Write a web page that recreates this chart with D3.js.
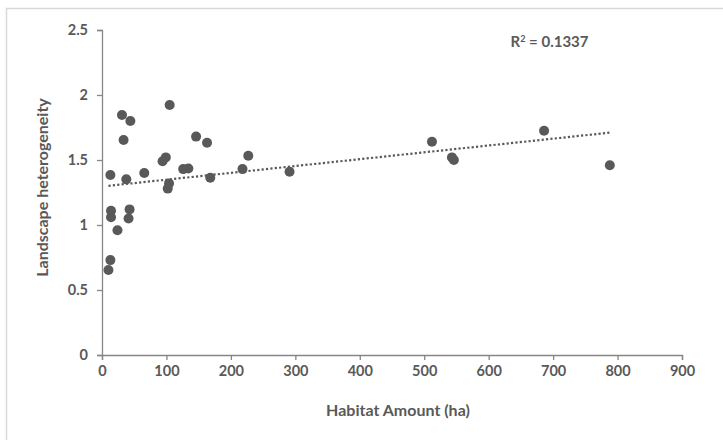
<!DOCTYPE html>
<html>
<head>
  <meta charset="UTF-8">
  <script src="https://d3js.org/d3.v7.min.js"></script>
  <title>Landscape heterogeneity vs Habitat Amount</title>
  <style type="text/css">
    html, body { margin:0; padding:0; background:#fff; }
    svg text { font-family: Lato, "Open Sans", sans-serif; fill:#595959; }
  </style>
</head>
<body>
<div id="chart"></div>
<script>
  // habitat amount (ha) and landscape heterogeneity
  var habitat = [10, 13, 14, 14, 24, 13, 31, 44, 33.5, 37.7, 42.8, 41.2, 65.6, 94, 99, 102, 104, 105,
                 126, 134, 146, 163, 168, 218, 227, 291, 512, 543, 546, 686, 788];
  var heterogeneity = [0.654, 0.73, 1.11, 1.06, 0.96, 1.385, 1.846, 1.80, 1.654, 1.351, 1.12, 1.05, 1.40,
                       1.49, 1.52, 1.28, 1.32, 1.923, 1.43, 1.435, 1.68, 1.633, 1.364, 1.43, 1.533, 1.41,
                       1.641, 1.52, 1.50, 1.725, 1.46];
  var xTicks = [0, 100, 200, 300, 400, 500, 600, 700, 800, 900];
  var yTicks = [0, 0.5, 1, 1.5, 2, 2.5];
  // linear trendline as drawn (intercept, slope) and its R²
  var trendIntercept = 1.296;
  var trendSlope = 0.000526;
  var rSquared = "0.1337";

  var svgWidth = 723, svgHeight = 440;
  var margin = {top: 30, left: 102, right: 41, bottom: 85};
  var width = svgWidth - margin.left - margin.right,
      height = svgHeight - margin.top - margin.bottom;

  var svg = d3.select("#chart").append("svg")
    .attr("width", svgWidth)
    .attr("height", svgHeight);

  // chart frame
  svg.append("rect")
    .attr("x", 6.5).attr("y", 8.5)
    .attr("width", 760).attr("height", 480)
    .attr("fill", "none")
    .attr("stroke", "#d9d9d9")
    .attr("stroke-width", 1.5);

  var g = svg.append("g")
    .attr("transform", "translate(" + margin.left + "," + margin.top + ")");

  var xScale = d3.scaleLinear().domain([0, 900]).range([0, width]);
  var yScale = d3.scaleLinear().domain([0, 2.5]).range([height, 0]);

  var xAxis = g.append("g")
    .attr("transform", "translate(0," + height + ")")
    .call(d3.axisBottom(xScale).tickValues(xTicks).tickSize(5).tickPadding(6).tickFormat(d3.format("d")));

  var yAxis = g.append("g")
    .call(d3.axisLeft(yScale).tickValues(yTicks).tickSize(5).tickPadding(9).tickFormat(function(d) { return d; }));

  [xAxis, yAxis].forEach(function(a) {
    a.selectAll("path, line").attr("stroke", "#868686").attr("stroke-width", 1.3);
    a.selectAll("text")
      .attr("fill", "#595959")
      .style("font-size", "14.5px")
      .style("font-weight", "700");
  });

  // trendline over the data's x range
  var ext = d3.extent(habitat);
  g.append("line")
    .attr("x1", xScale(ext[0]))
    .attr("y1", yScale(trendIntercept + trendSlope * ext[0]))
    .attr("x2", xScale(ext[1]))
    .attr("y2", yScale(trendIntercept + trendSlope * ext[1]))
    .attr("stroke", "#595959")
    .attr("stroke-width", 2.2)
    .attr("stroke-dasharray", "2.2,2.2");

  // points
  g.selectAll("circle")
    .data(habitat)
    .enter()
    .append("circle")
    .attr("cx", function(d) { return xScale(d); })
    .attr("cy", function(d, i) { return yScale(heterogeneity[i]); })
    .attr("r", 5)
    .attr("fill", "#595959");

  // R² label
  var r2 = g.append("text")
    .attr("x", xScale(634))
    .attr("y", 17)
    .style("font-size", "15px")
    .style("font-weight", "700");
  r2.append("tspan").text("R");
  r2.append("tspan").attr("dy", -5).style("font-size", "9px").text("2");
  r2.append("tspan").attr("dy", 5).text(" = " + rSquared);

  // axis titles
  g.append("text")
    .attr("x", width / 2 + 6)
    .attr("y", height + 61)
    .attr("text-anchor", "middle")
    .style("font-size", "16px")
    .style("font-weight", "700")
    .text("Habitat Amount (ha)");

  g.append("text")
    .attr("transform", "translate(" + (-54) + "," + (height / 2 - 5) + ") rotate(-90)")
    .attr("text-anchor", "middle")
    .style("font-size", "16px")
    .style("font-weight", "700")
    .text("Landscape heterogeneity");
</script>
</body>
</html>
